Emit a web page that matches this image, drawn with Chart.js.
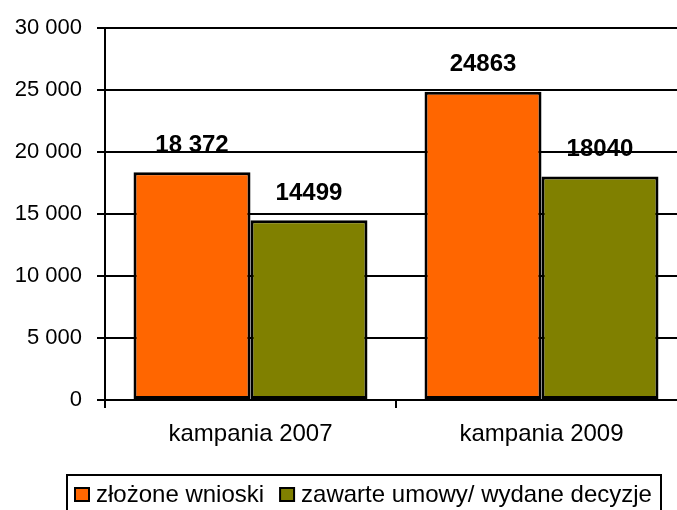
<!DOCTYPE html>
<html>
<head>
<meta charset="utf-8">
<script src="https://cdn.jsdelivr.net/npm/chart.js@4"></script>
<style>
  html, body { margin: 0; padding: 0; overflow: hidden; background: #fff; }
  canvas { display: block; }
</style>
</head>
<body>
<canvas id="chart" width="690" height="510"></canvas>
<script>
  const categories = ['kampania 2007', 'kampania 2009'];
  const seriesNames = ['złożone wnioski', 'zawarte umowy/ wydane decyzje'];
  const zlozone = [18372, 24863];
  const zawarte = [14499, 18040];
  // value labels exactly as printed above the bars
  const zlozoneLabels = ['18 372', '24863'];
  const zawarteLabels = ['14499', '18040'];
  const yTicks = [0, 5000, 10000, 15000, 20000, 25000, 30000];

  const FONT = '"Liberation Sans", Arial, sans-serif';

  // value labels above bars
  const valueLabels = {
    id: 'valueLabels',
    afterDatasetsDraw(chart) {
      const ctx = chart.ctx;
      ctx.save();
      ctx.font = 'bold 24px ' + FONT;
      ctx.fillStyle = '#000';
      ctx.textAlign = 'center';
      ctx.textBaseline = 'middle';
      chart.data.datasets.forEach((ds, i) => {
        chart.getDatasetMeta(i).data.forEach((bar, j) => {
          ctx.fillText(ds.valueLabels[j], bar.x, bar.y - 27);
        });
      });
      ctx.restore();
    }
  };

  // boxed legend at the bottom
  const boxLegend = {
    id: 'boxLegend',
    afterDraw(chart) {
      const ctx = chart.ctx;
      ctx.save();
      ctx.strokeStyle = '#000';
      ctx.lineWidth = 2;
      ctx.strokeRect(67, 475, 594, 60);
      ctx.font = '24px ' + FONT;
      ctx.textBaseline = 'middle';
      let x = 75;
      chart.data.datasets.forEach(ds => {
        ctx.fillStyle = ds.backgroundColor;
        ctx.fillRect(x, 488, 14, 13);
        ctx.lineWidth = 2;
        ctx.strokeRect(x, 488, 14, 13);
        ctx.fillStyle = '#000';
        ctx.fillText(ds.label, x + 21, 495);
        x = x + 21 + ctx.measureText(ds.label).width + 16;
      });
      ctx.restore();
    }
  };

  new Chart(document.getElementById('chart'), {
    type: 'bar',
    data: {
      labels: categories,
      datasets: [{
        label: seriesNames[0],
        data: zlozone,
        valueLabels: zlozoneLabels,
        backgroundColor: '#FF6600',
        borderColor: '#000',
        borderWidth: 3,
        borderSkipped: false
      }, {
        label: seriesNames[1],
        data: zawarte,
        valueLabels: zawarteLabels,
        backgroundColor: '#808000',
        borderColor: '#000',
        borderWidth: 3,
        borderSkipped: false
      }]
    },
    options: {
      responsive: false,
      animation: false,
      layout: { padding: { top: 25, right: 3, bottom: 0, left: 0 } },
      categoryPercentage: 0.804,
      barPercentage: 1,
      plugins: {
        legend: { display: false },
        tooltip: { enabled: false }
      },
      scales: {
        x: {
          afterFit: scale => { scale.height = 110; },
          grid: { drawOnChartArea: false, color: '#000', lineWidth: 2, tickLength: 8 },
          border: { color: '#000', width: 2 },
          ticks: { color: '#000', font: { family: FONT, size: 24 }, padding: 12 }
        },
        y: {
          min: 0,
          max: 30000,
          afterFit: scale => { scale.width = 105; },
          afterBuildTicks: scale => { scale.ticks = yTicks.map(v => ({ value: v })); },
          grid: { color: '#000', lineWidth: 2, tickLength: 8 },
          border: { color: '#000', width: 2 },
          ticks: {
            color: '#000',
            font: { family: FONT, size: 22 },
            padding: 15,
            callback: v => String(v).replace(/\B(?=(\d{3})+(?!\d))/g, ' ')
          }
        }
      }
    },
    plugins: [valueLabels, boxLegend]
  });
</script>
</body>
</html>
